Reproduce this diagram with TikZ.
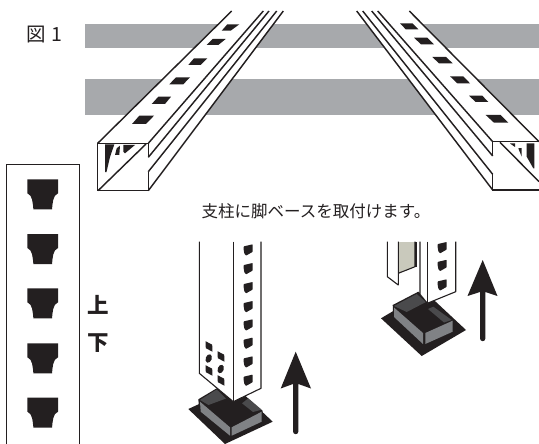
\documentclass[tikz,border=0pt]{standalone}
\usepackage{fontspec}
\setmainfont{Noto Sans CJK JP}
\definecolor{ink}{HTML}{231F20}
\definecolor{barg}{HTML}{A7A9AC}
\definecolor{sideg}{HTML}{808285}
\definecolor{wallg}{HTML}{4A4A4C}
\definecolor{inner}{HTML}{C9C9BC}
\tikzset{
  railline/.style={draw=ink,line width=1.45pt,line join=miter},
  postline/.style={draw=ink,line width=1.1pt,line join=round},
  lbl/.style={inner sep=0pt,text=ink},
}
\newcommand{\railslot}[8]{\fill[ink] (#1,#2)--(#3,#4)--(#5,#6)--(#7,#8)--cycle;}
\newcommand{\posthole}[2]{\fill[ink,rounded corners=0.5pt,shift={(#1,#2)}] (-4.6,-3.6)--(4.3,-5.7)--(4.3,1.9)--(-2.2,5.6)--(-3.9,3.8)--(-4.6,0)--cycle;}
\begin{document}
\begin{tikzpicture}[x=1pt,y=-1pt]
\useasboundingbox (0,0) rectangle (539,444);
% grey bars
\fill[barg] (85,24) rectangle (539,48);
\fill[barg] (85,79) rectangle (539,115);
% left rail
\fill[white] (231.7,11)--(283.3,11)--(148.3,190.7)--(97.7,190.7)--(97.7,143.3)--cycle;
\draw[railline] (97.7,143.3)--(231.7,11);
\draw[railline] (148.3,143.3)--(263.3,11);
\draw[railline] (148.3,157.3)--(269,11);
\draw[railline] (148.3,171.7)--(276.7,11);
\draw[railline] (148.3,190.7)--(283.3,11);
\draw[railline] (148.3,143.3)--(97.7,143.3)--(97.7,190.7)--(148.3,190.7)--(148.3,171.7);
\draw[railline] (148.3,143.3)--(148.3,157.3);
\draw[railline] (98,190.7)--(146,144);
\fill[ink] (105,144.5)--(114.3,144.5)--(110,157)--(106.5,172)--(105,172)--cycle;
\fill[ink] (116.7,148.3)--(120,145.7)--(119.3,155)--(115,155)--cycle;
\fill[ink] (123.3,145)--(135,145)--(125,153.3)--(123.3,151.7)--cycle;
\railslot{221.7}{30.7}{227.3}{24.3}{239.3}{24.3}{230.7}{30.7}
\railslot{206.7}{45}{212.7}{39}{225.7}{39}{218.3}{45}
\railslot{188.3}{65}{194}{58.3}{207.3}{58.3}{200.7}{65}
\railslot{169.3}{84.3}{176}{77.3}{190}{77.3}{183.3}{84.3}
\railslot{151.7}{104}{158.3}{96.7}{171}{96.7}{165}{104}
\railslot{132}{124}{139.3}{115.7}{154}{115.7}{146}{124}
% right rail
\fill[white] (356.7,11)--(409.3,11)--(539,141.7)--(539,190)--(492.7,190)--cycle;
\draw[railline] (409.3,11)--(539,141.7);
\draw[railline] (377.7,11)--(492.7,141.7);
\draw[railline] (371.7,11)--(492.7,156);
\draw[railline] (362.7,11)--(492.7,174.3);
\draw[railline] (356.7,11)--(492.7,190);
\draw[railline] (539,141.7)--(492.7,141.7)--(492.7,156);
\draw[railline] (492.7,174.3)--(492.7,190)--(539,190);
\draw[railline] (500,142.3)--(539,181.7);
\fill[ink] (526.7,143.5)--(534.3,143.5)--(534.3,168.3)--(533.3,168.3)--(526.7,156.7)--cycle;
\fill[ink] (518.3,148.3)--(521.7,148)--(521.7,156.7)--cycle;
\fill[ink] (510,143.5)--(515,143.5)--(515,147)--cycle;
\railslot{400}{23.3}{412.3}{23.3}{418.3}{29.3}{405.7}{29.3}
\railslot{414}{37.7}{427.3}{37.7}{434}{44.3}{421}{44.3}
\railslot{432.3}{57}{446}{57}{452.7}{63.3}{439}{63.3}
\railslot{450}{76.3}{463.3}{76.3}{470}{83.3}{457.3}{83.3}
\railslot{469}{95.7}{482.3}{95.7}{488.3}{102}{475.7}{102}
\railslot{485.7}{115}{500.7}{115}{508.3}{122.7}{494}{122.7}
% label
\node[lbl,font=\fontsize{19.5}{19.5}\selectfont] (fig) at (44.5,34.5) {図\hspace{5pt}1};
\node[lbl,font=\fontsize{16.5}{16.5}\selectfont] (cap) at (316,211) {支柱に脚ベースを取付けます。};
% left strip
\draw[draw=ink,line width=1pt] (6,444)--(6,165)--(79,165)--(79,444);
\foreach \yy in {179.3,234,288.3,343.3,397.7}{
  \fill[ink,shift={(42.7,\yy)}] (-15.3,0)--(15.3,0)--(15.3,14)
     .. controls (10,16) and (10,24) .. (9.3,30)--(-9.3,30)
     .. controls (-10,24) and (-10,16) .. (-15.3,14)--cycle;
}
\node[lbl,font=\fontsize{21.5}{21.5}\selectfont\bfseries] (up) at (98,304.5) {上};
\node[lbl,font=\fontsize{21.5}{21.5}\selectfont\bfseries] (down) at (98,343) {下};
% centre base
\fill[ink] (188.3,409)--(236,387)--(272.7,421.7)--(225,444)--cycle;
\fill[ink] (198.3,399.3)--(216.7,388.3)--(262.7,410.7)--(262.7,422)--(230,437.5)--(199.5,412)--cycle;
\fill[wallg] (200,400)--(216.7,389.5)--(226,398.5)--(208.5,405)--cycle;
\fill[wallg] (248.3,398.3)--(261.7,409.7)--(253,412)--(242,403.3)--cycle;
\fill[sideg] (200,401.7)--(230,427.3)--(230,435.7)--(200.7,411.7)--cycle;
\fill[sideg] (231.7,427.3)--(261.7,411.7)--(261.7,421.7)--(231.7,435.7)--cycle;
% centre post
\fill[white] (199.3,241.7)--(199.3,373.3)--(233.3,401.7)--(261,388.3)--(261,241.7)--cycle;
\draw[postline] (199.3,241.7)--(199.3,373.3)--(233.3,401.7)--(261,388.3)--(261,241.7);
\draw[postline,line width=1.4pt] (233.3,241.7)--(233.3,401.7);
\foreach \yy in {250,268.7,287.7,306.7,325,343.3,362,380.3}{\posthole{248.3}{\yy}}
\foreach \xx/\yy in {209/346.7,209/370.7,221/356.7,221/380.7}{
  \fill[ink,shift={(\xx,\yy)}] (-3.5,-5.5)--(3.2,-2)--(3.5,5)--(-3.2,1.5)--cycle;}
\foreach \xx/\yy in {208.7/358.5,220.7/369}{
  \fill[ink,rotate around={-20:(\xx,\yy)}] (\xx,\yy) ellipse[x radius=3,y radius=4.4];}
% centre arrow
\fill[ink] (295.7,351.7)--(311,388.5)--(298.4,384)--(298.4,431.5)
   arc[start angle=0,end angle=180,radius=2.7]--(293,384)--(280.7,388.5)--cycle;
% right base
\fill[ink] (381,318.3)--(425.3,292)--(466,330)--(421.7,356)--cycle;
\fill[ink] (392.7,305)--(418.3,291.7)--(453.3,320)--(453.3,331.7)--(423.3,345)--(393.3,317)--cycle;
\fill[wallg] (394,306)--(416.7,294)--(426,302)--(406.7,312)--cycle;
\fill[wallg] (433.3,306.7)--(451.7,320)--(444,322.5)--(428,309)--cycle;
\fill[sideg] (394,307.5)--(423,333)--(423,344)--(394,317)--cycle;
\fill[sideg] (425.3,333)--(452.7,320.7)--(452.7,331.7)--(425.3,344)--cycle;
% right post
\fill[inner] (398.3,241.7) rectangle (415,266.7);
\fill[inner] (398.3,266.7)--(415,266.7)--(398.3,273.3)--cycle;
\fill[white] (387.3,241.7)--(387.3,276.7)--(398.3,285)--(398.3,241.7)--cycle;
\draw[postline] (387.3,241.7)--(387.3,276.7)--(398.3,285)--(398.3,241.7);
\draw[postline] (398.3,273.3)--(415,266.7)--(415,241.7);
\fill[ink] (415,241.7) rectangle (417,267);
\fill[white] (420,241.7)--(420,294.3)--(427.3,303.3)--(455.7,291.7)--(455.7,241.7)--cycle;
\draw[postline] (420,241.7)--(420,294.3)--(427.3,303.3)--(455.7,291.7)--(455.7,241.7);
\draw[postline] (427.3,241.7)--(427.3,303.3);
\foreach \yy in {247.7,265.5,285}{\posthole{442.3}{\yy}}
% right arrow
\fill[ink] (482.7,260)--(497.5,296)--(485.4,292)--(485.4,338.5)
   arc[start angle=0,end angle=180,radius=2.7]--(480,292)--(467.5,296)--cycle;
\end{tikzpicture}
\end{document}
